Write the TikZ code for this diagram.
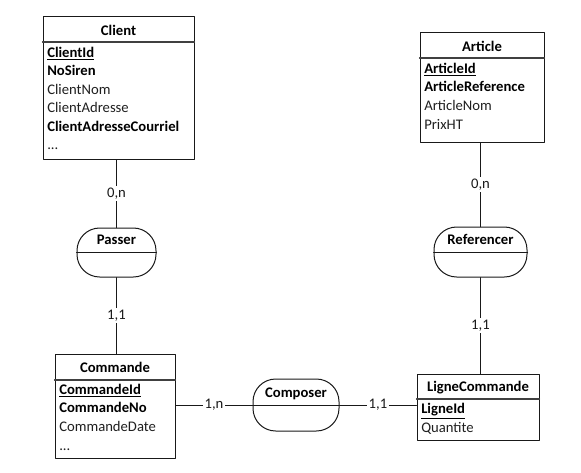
\documentclass[tikz,border=0pt]{standalone}
\usepackage{fontspec}
\setmainfont{Carlito}
\usetikzlibrary{fit}
\tikzset{
	entite/.style={draw=black!90, line width=0.75pt, inner sep=0pt},
	relation/.style={draw=black!90, line width=0.75pt, rounded corners=17pt, inner sep=0pt},
	sep/.style={black!75, line width=0.9pt},
	titre/.style={font=\bfseries, anchor=base, inner sep=0pt},
	cle/.style={font=\bfseries, anchor=base west, inner sep=0pt},
	attribut/.style={anchor=base west, inner sep=0pt, text=black!88},
	carte/.style={fill=white, inner sep=1.5pt},
	lien/.style={black!90, line width=0.75pt},
}
\begin{document}
\fontsize{11pt}{13pt}\selectfont
\begin{tikzpicture}[x=0.75pt, y=-0.75pt, line join=round, line cap=round]
				\useasboundingbox (0,0) rectangle (581,472);
				% entités
				\node[entite, fit={(43,16) (194,159)}] (client) {};
				\node[entite, fit={(420,32) (544,142)}] (article) {};
				\node[entite, fit={(55,354) (175,458)}] (commande) {};
				\node[entite, fit={(417,374) (539,440)}] (ligne) {};
				\draw[sep] (client.west |- 0,42) -- (client.east |- 0,42); %en-tête Client
				\draw[sep] (article.west |- 0,58) -- (article.east |- 0,58); %en-tête Article
				\draw[sep] (commande.west |- 0,380) -- (commande.east |- 0,380); %en-tête Commande
				\draw[sep] (ligne.west |- 0,399) -- (ligne.east |- 0,399); %en-tête LigneCommande
				\path
				(118.5,35) node[titre] (tClient) {Client}
				(47,57) node[cle] (aClientId) {\underline{ClientId}}
				(47,75.5) node[cle] (aNoSiren) {NoSiren}
				(47,94) node[attribut] (aClientNom) {ClientNom}
				(47,112.5) node[attribut] (aClientAdresse) {ClientAdresse}
				(47,131) node[cle] (aClientCourriel) {ClientAdresseCourriel}
				(47,149.5) node[attribut] (aClientSuite) {...};
				\path
				(482,51) node[titre] (tArticle) {Article}
				(424,73) node[cle] (aArticleId) {\underline{ArticleId}}
				(424,91.8) node[cle] (aArticleRef) {ArticleReference}
				(424,110.6) node[attribut] (aArticleNom) {ArticleNom}
				(424,129.4) node[attribut] (aPrixHT) {PrixHT};
				\path
				(115,372) node[titre] (tCommande) {Commande}
				(59,394) node[cle] (aCommandeId) {\underline{CommandeId}}
				(59,412.7) node[cle] (aCommandeNo) {CommandeNo}
				(59,431.4) node[attribut] (aCommandeDate) {CommandeDate}
				(59,450) node[attribut] (aCommandeSuite) {...};
				\path
				(478,391) node[titre] (tLigne) {LigneCommande}
				(421,413.5) node[cle] (aLigneId) {\underline{LigneId}}
				(421,432.3) node[attribut] (aQuantite) {Quantite};
				% associations
				\node[relation, fit={(77,228) (156,277)}] (passer) {};
				\node[relation, fit={(434,227) (527,277)}] (referencer) {};
				\node[relation, fit={(253,379) (339,431)}] (composer) {};
				\draw[lien] (passer.west) -- (passer.east);
				\draw[lien] (referencer.west) -- (referencer.east);
				\draw[lien] (composer.west) -- (composer.east);
				\node[titre] (tPasser) at ([yshift=6pt]passer.center) {Passer};
				\node[titre] (tReferencer) at ([yshift=6pt]referencer.center) {Referencer};
				\node[titre] (tComposer) at ([yshift=6pt]composer.center) {Composer};
				% liens et cardinalités
				\draw[lien] (passer.north |- client.south) -- node[carte] (c1) {0,n} (passer.north);
				\draw[lien] (passer.south) -- node[carte] (c2) {1,1} (passer.south |- commande.north);
				\draw[lien] (referencer.north |- article.south) -- node[carte] (c3) {0,n} (referencer.north);
				\draw[lien] (referencer.south) -- node[carte] (c4) {1,1} (referencer.south |- ligne.north);
				\draw[lien] (commande.east |- composer.west) -- node[carte] (c5) {1,n} (composer.west);
				\draw[lien] (composer.east) -- node[carte] (c6) {1,1} (ligne.west |- composer.east);
			\end{tikzpicture}
\end{document}
